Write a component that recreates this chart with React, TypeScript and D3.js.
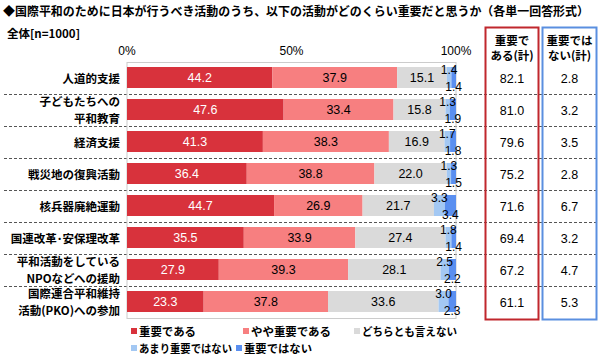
import React from 'react';
import * as d3 from 'd3';

const categories = [
  ['人道的支援'],
  ['子どもたちへの', '平和教育'],
  ['経済支援'],
  ['戦災地の復興活動'],
  ['核兵器廃絶運動'],
  ['国連改革･安保理改革'],
  ['平和活動をしている', 'NPOなどへの援助'],
  ['国際連合平和維持', '活動(PKO)への参加'],
];
const seriesNames = ['重要である', 'やや重要である', 'どちらとも言えない', 'あまり重要ではない', '重要ではない'];
const seriesColors = ['#d8323c', '#f77f80', '#dadada', '#a3c8f3', '#5a8ff0'];
const veryImportant = [44.2, 47.6, 41.3, 36.4, 44.7, 35.5, 27.9, 23.3];
const somewhatImportant = [37.9, 33.4, 38.3, 38.8, 26.9, 33.9, 39.3, 37.8];
const neutral = [15.1, 15.8, 16.9, 22.0, 21.7, 27.4, 28.1, 33.6];
const notVery = [1.4, 1.3, 1.7, 1.3, 3.3, 1.8, 2.5, 3.0];
const notAtAll = [1.4, 1.9, 1.8, 1.5, 3.4, 1.4, 2.2, 2.3];
const importantTotal = [82.1, 81.0, 79.6, 75.2, 71.6, 69.4, 67.2, 61.1];
const notImportantTotal = [2.8, 3.2, 3.5, 2.8, 6.7, 3.2, 4.7, 5.3];
const xTicks = [0, 50, 100];

const W = 600;
const H = 361;
const font = '"Noto Sans CJK JP", "Noto Sans", sans-serif';
const numFont = '"Liberation Sans", Arial, sans-serif';

export default function App() {
  const x = d3.scaleLinear().domain([0, 100]).range([127, 456]);
  const y = d3.scaleBand<number>().domain(d3.range(categories.length)).range([62.5, 318.5]);
  const barH = 21;

  const rows = categories.map((_, i) => [veryImportant[i], somewhatImportant[i], neutral[i], notVery[i], notAtAll[i]]);
  const stacked = rows.map(r => {
    let acc = 0;
    return r.map(v => {
      const s = acc;
      acc += v;
      return [s, acc];
    });
  });

  // legend layout (x, y, text width)
  const legend = [
    { i: 0, x: 131, y: 332, w: 57 },
    { i: 1, x: 243, y: 332, w: 80 },
    { i: 2, x: 354, y: 332, w: 95 },
    { i: 3, x: 131, y: 349, w: 93 },
    { i: 4, x: 236, y: 349, w: 68 },
  ];

  return (
    <svg width={W} height={H} style={{ position: 'absolute', left: 0, top: 0, background: '#fff' }}>
      <text x={3} y={16} fontFamily={font} fontWeight="bold" fontSize={12} textLength={586} lengthAdjust="spacingAndGlyphs">
        ◆国際平和のために日本が行うべき活動のうち、以下の活動がどのくらい重要だと思うか（各単一回答形式）
      </text>
      <text x={7} y={38} fontFamily={font} fontWeight="bold" fontSize={11.5}>全体[n=1000]</text>

      {xTicks.map(t => (
        <text key={t} x={x(t)} y={55} textAnchor="middle" fontFamily={numFont} fontSize={12}>{t}%</text>
      ))}

      {/* row separators */}
      {categories.slice(1).map((_, i) => (
        <line key={i} x1={4} x2={598} y1={y(i + 1)!} y2={y(i + 1)!} stroke="#555" strokeWidth={1} strokeDasharray="3,2" />
      ))}

      {/* plot frame */}
      <rect x={x(0)} y={62.5} width={x(100) - x(0)} height={256} fill="none" stroke="#cccccc" strokeWidth={1} />

      {categories.map((lines, i) => {
        const cy = y(i)! + y.bandwidth() / 2;
        const top = y(i)! + 4.5;
        const mid = top + barH / 2;
        return (
          <g key={i}>
            {lines.map((ln, k) => (
              <text key={k} x={120} y={cy + (k - (lines.length - 1) / 2) * 16.5 + 4} textAnchor="end"
                fontFamily={font} fontWeight="bold" fontSize={11.5}>{ln}</text>
            ))}
            {stacked[i].map(([a, b], s) => (
              <rect key={s} x={x(a)} y={top} width={x(b) - x(a)} height={barH} fill={seriesColors[s]} />
            ))}
            {stacked[i].slice(0, 3).map(([a, b], s) => (
              <text key={'v' + s} x={(x(a) + x(b)) / 2} y={mid + 4.5} textAnchor="middle"
                fontFamily={numFont} fontSize={12.5} fill={s === 0 ? '#fff' : '#000'}>{rows[i][s].toFixed(1)}</text>
            ))}
            <text x={(x(stacked[i][3][0]) + x(stacked[i][3][1])) / 2} y={mid - 3.5} textAnchor="middle"
              fontFamily={numFont} fontSize={12}>{rows[i][3].toFixed(1)}</text>
            <text x={(x(stacked[i][4][0]) + x(stacked[i][4][1])) / 2} y={mid + 13} textAnchor="middle"
              fontFamily={numFont} fontSize={12}>{rows[i][4].toFixed(1)}</text>
            <text x={512} y={cy + 4.5} textAnchor="middle" fontFamily={numFont} fontSize={12.5}>{importantTotal[i].toFixed(1)}</text>
            <text x={569.5} y={cy + 4.5} textAnchor="middle" fontFamily={numFont} fontSize={12.5}>{notImportantTotal[i].toFixed(1)}</text>
          </g>
        );
      })}

      {/* total boxes */}
      <rect x={485.5} y={27.5} width={53} height={292} fill="none" stroke="#c0272d" strokeWidth={2} />
      <rect x={542.5} y={27.5} width={54} height={292} fill="none" stroke="#5a8fe0" strokeWidth={2} />
      <text x={512} y={45} textAnchor="middle" fontFamily={font} fontWeight="bold" fontSize={11.5}>重要で</text>
      <text x={512} y={60} textAnchor="middle" fontFamily={font} fontWeight="bold" fontSize={11.5}>ある(計)</text>
      <text x={569.5} y={45} textAnchor="middle" fontFamily={font} fontWeight="bold" fontSize={11.5}>重要では</text>
      <text x={569.5} y={60} textAnchor="middle" fontFamily={font} fontWeight="bold" fontSize={11.5}>ない(計)</text>

      {legend.map(l => (
        <g key={l.i}>
          <rect x={l.x} y={l.y - 4} width={6} height={6} fill={seriesColors[l.i]} />
          <text x={l.x + 8} y={l.y + 4} fontFamily={font} fontWeight="bold" fontSize={11.5}
            textLength={l.w} lengthAdjust="spacingAndGlyphs">{seriesNames[l.i]}</text>
        </g>
      ))}
    </svg>
  );
}
